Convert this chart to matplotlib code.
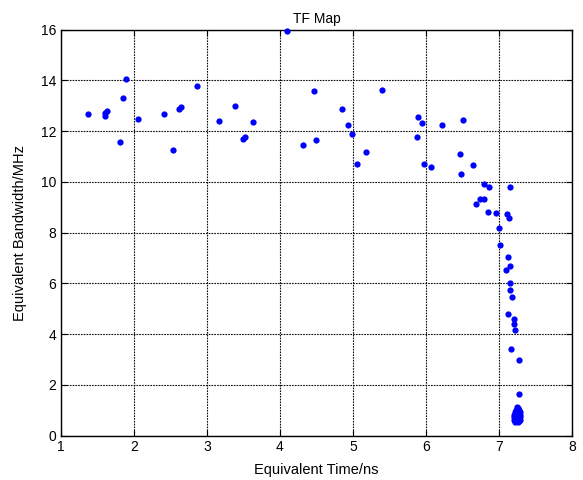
import numpy as np
import matplotlib
matplotlib.use("Agg")
import matplotlib.pyplot as plt

plt.rcParams['font.family'] = ['Liberation Sans', 'DejaVu Sans']

# equivalent time (ns) and bandwidth (MHz)
time_ns = [1.37, 1.60, 1.63, 1.60, 1.85, 1.89, 1.81, 2.05, 2.41, 2.54,
           2.62, 2.64, 2.86, 3.16, 3.38, 3.50, 3.52, 3.63,
           4.10, 4.46, 4.32, 4.49, 4.85, 4.93, 4.99, 5.05, 5.18, 5.40,
           5.89, 5.94, 5.88, 5.98, 6.07, 6.22,
           6.51, 6.46, 6.65, 6.48, 6.79, 6.86, 7.15, 6.74, 6.80, 6.69,
           6.85, 6.96, 7.11, 7.14, 7.00, 7.01, 7.12, 7.15, 7.09, 7.15,
           7.15, 7.18, 7.12, 7.21, 7.20, 7.22, 7.16, 7.27, 7.27,
           # dense cluster near 7.25 ns
           7.25, 7.26, 7.23, 7.27, 7.22, 7.25, 7.29, 7.21, 7.25, 7.29,
           7.21, 7.25, 7.29, 7.21, 7.25, 7.29, 7.22, 7.26, 7.28, 7.24]
bandwidth_mhz = [12.69, 12.72, 12.78, 12.58, 13.29, 14.06, 11.57, 12.47, 12.69, 11.24,
                 12.88, 12.96, 13.76, 12.41, 12.97, 11.70, 11.75, 12.37,
                 15.93, 13.56, 11.46, 11.65, 12.88, 12.24, 11.87, 10.69, 11.17, 13.60,
                 12.55, 12.33, 11.76, 10.70, 10.57, 12.24,
                 12.45, 11.11, 10.66, 10.30, 9.91, 9.80, 9.80, 9.31, 9.31, 9.13,
                 8.80, 8.77, 8.73, 8.59, 8.16, 7.51, 7.03, 6.69, 6.54, 6.02,
                 5.73, 5.45, 4.80, 4.59, 4.38, 4.17, 3.41, 2.98, 1.62,
                 1.13, 1.10, 1.02, 1.02, 0.92, 0.92, 0.92, 0.82, 0.82, 0.82,
                 0.72, 0.72, 0.72, 0.62, 0.62, 0.62, 0.55, 0.54, 0.57, 0.97]

fig = plt.figure(figsize=(5.83, 4.8), dpi=100)
ax = fig.add_axes([0.1046, 0.0927, 0.8764, 0.8458])

ax.plot(time_ns, bandwidth_mhz, 'o', color='#0000ff', markersize=4.5,
        markeredgewidth=0, clip_on=False, zorder=3)

ax.set_xlim(1, 8)
ax.set_ylim(0, 16)
ax.set_xticks(np.arange(1, 9))
ax.set_yticks(np.arange(0, 17, 2))
ax.grid(True, color='0.05', linestyle=(0, (1.5, 1)), linewidth=0.8)
ax.tick_params(direction='in', top=True, right=True, labelsize=10, length=4)
for s in ax.spines.values():
    s.set_linewidth(1.0)

ax.set_title('TF Map', fontsize=10, pad=5)
ax.set_xlabel('Equivalent Time/ns', fontsize=10.5, labelpad=6)
ax.set_ylabel('Equivalent Bandwidth/MHz', fontsize=10.5, labelpad=10)

fig.savefig('out.png', dpi=100)
